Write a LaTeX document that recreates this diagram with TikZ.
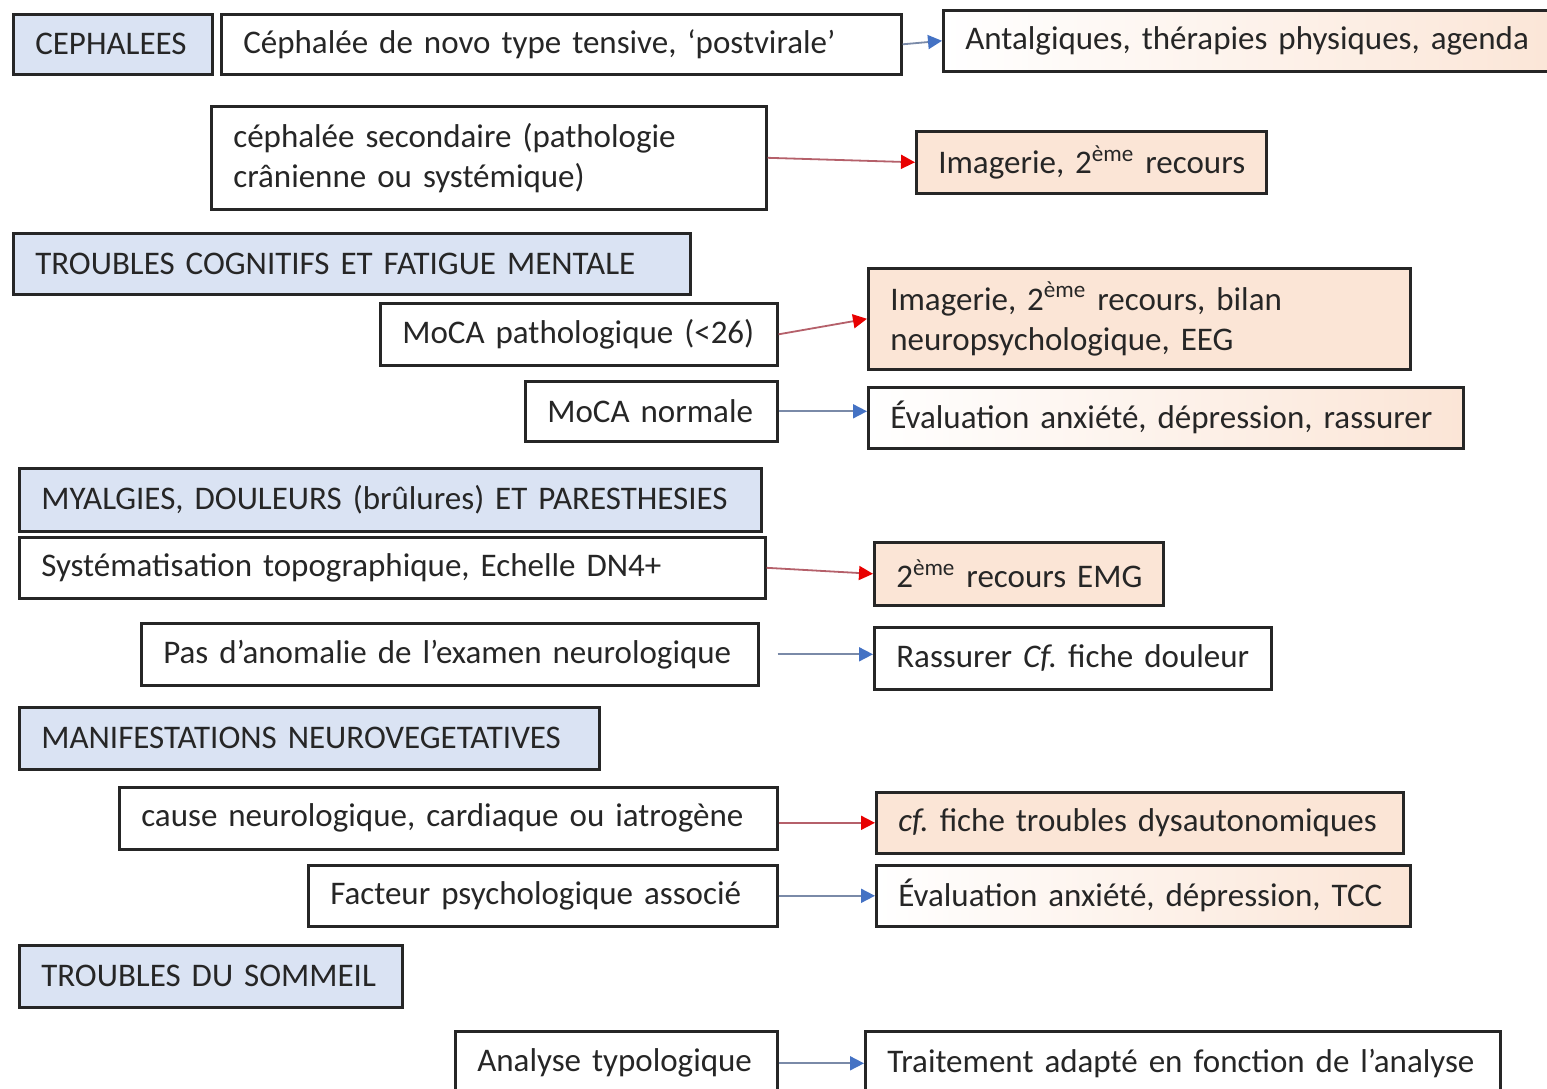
\documentclass[tikz,border=0pt]{standalone}
\usepackage{fontspec}
\setmainfont{Carlito}[WordSpace=0.85]
\frenchspacing
\usetikzlibrary{arrows.meta}
\definecolor{hdrblue}{HTML}{DAE3F3}
\definecolor{peach}{HTML}{FBE5D6}
\definecolor{txt}{HTML}{262626}
\definecolor{bline}{HTML}{7A8AA8}
\definecolor{btip}{HTML}{4472C4}
\definecolor{rline}{HTML}{B5606A}
\definecolor{rtip}{HTML}{E80000}
\newcommand\mybox[7]{%
  \pgfmathsetmacro\bw{(#5-#3)*0.5}%
  \pgfmathsetmacro\bh{(#6-#4)*0.5}%
  \pgfmathsetmacro\tw{\bw-22}%
  \node[bx,#2,anchor=north west,minimum width=\bw pt,minimum height=\bh pt,text width=\tw pt] (#1) at (#3,#4) {#7};}
\begin{document}
\begin{tikzpicture}[x=0.5pt,y=-0.5pt,
  bx/.style={draw=black!85,line width=1.3pt,inner xsep=11pt,inner ysep=0pt,align=left,text=txt,
    font=\fontsize{16.5pt}{20pt}\selectfont\frenchspacing},
  hdr/.style={fill=hdrblue},
  plain/.style={fill=white},
  pch/.style={fill=peach},
  grad/.style={left color=white,right color=peach,shading angle=90},
  barrow/.style={draw=bline,line width=0.9pt,-{Triangle[length=7pt,width=7pt,color=btip]}},
  rarrow/.style={draw=rline,line width=0.9pt,-{Triangle[length=7pt,width=7pt,color=rtip]}}]
\useasboundingbox (0,0) rectangle (1547,1088);
\clip (0,0) rectangle (1547,1088);
\fill[white] (0,0) rectangle (1547,1088);
% CEPHALEES
\mybox{ceph}{hdr}{12}{13}{211}{73}{\mbox{CEPHALEES}}
\mybox{c1}{plain}{220}{13}{900}{73}{\mbox{Céphalée de novo type tensive, ‘postvirale’}}
\mybox{r1}{grad}{942}{9}{1570}{70}{\mbox{Antalgiques, thérapies physiques, agenda}}
\mybox{c2}{plain}{210}{105}{765}{208}{\mbox{céphalée secondaire (pathologie}\\\mbox{crânienne ou systémique)}}
\mybox{r2}{pch}{915}{130}{1265}{192}{\mbox{Imagerie, 2\textsuperscript{ème} recours}}
% TROUBLES COGNITIFS
\mybox{tc}{hdr}{12}{232}{689}{293}{\mbox{TROUBLES COGNITIFS ET FATIGUE MENTALE}}
\mybox{c3}{plain}{379}{302}{776}{364}{\mbox{MoCA pathologique (<26)}}
\mybox{r3}{pch}{867}{267}{1409}{368}{\mbox{Imagerie, 2\textsuperscript{ème} recours, bilan}\\\mbox{neuropsychologique, EEG}}
\mybox{c4}{plain}{524}{380}{776}{440}{\mbox{MoCA normale}}
\mybox{r4}{grad}{867}{386}{1462}{447}{\mbox{Évaluation anxiété, dépression, rassurer}}
% MYALGIES
\mybox{my}{hdr}{18}{467}{760}{530}{\mbox{MYALGIES, DOULEURS (brûlures) ET PARESTHESIES}}
\mybox{c5}{plain}{18}{536}{764}{597}{\mbox{Systématisation topographique, Echelle DN4+}}
\mybox{r5}{pch}{873}{541}{1162}{604}{\mbox{2\textsuperscript{ème} recours EMG}}
\mybox{c6}{plain}{140}{622}{757}{684}{\mbox{Pas d’anomalie de l’examen neurologique}}
\mybox{r6}{plain}{873}{626}{1270}{688}{\mbox{Rassurer {\itshape Cf.} fiche douleur}}
% MANIFESTATIONS
\mybox{mn}{hdr}{18}{706}{598}{768}{\mbox{MANIFESTATIONS NEUROVEGETATIVES}}
\mybox{c7}{plain}{118}{786}{776}{848}{\mbox{cause neurologique, cardiaque ou iatrogène}}
\mybox{r7}{pch}{875}{791}{1402}{852}{\mbox{{\itshape cf.} fiche troubles dysautonomiques}}
\mybox{c8}{plain}{307}{864}{776}{925}{\mbox{Facteur psychologique associé}}
\mybox{r8}{grad}{875}{864}{1409}{925}{\mbox{Évaluation anxiété, dépression, TCC}}
% SOMMEIL
\mybox{ts}{hdr}{18}{944}{401}{1006}{\mbox{TROUBLES DU SOMMEIL}}
\mybox{c9}{plain}{454}{1030}{776}{1094}{\mbox{Analyse typologique}}
\mybox{r9}{plain}{864}{1030}{1499}{1094}{\mbox{Traitement adapté en fonction de l’analyse}}
% connectors
\draw[barrow] (c1.east) -- (r1.west);
\draw[rarrow] (c2.east) -- (r2.west);
\draw[rarrow] (c3.east) -- (r3.west);
\draw[barrow] (c4.east) -- (c4.east -| r4.west);
\draw[rarrow] (c5.east) -- (r5.west);
\draw[barrow] ([xshift=9pt]c6.east) -- (c6.east -| r6.west);
\draw[rarrow] (c7.east |- r7.west) -- (r7.west);
\draw[barrow] (c8.east) -- (r8.west);
\draw[barrow] (c9.east) -- (r9.west);
\end{tikzpicture}
\end{document}
